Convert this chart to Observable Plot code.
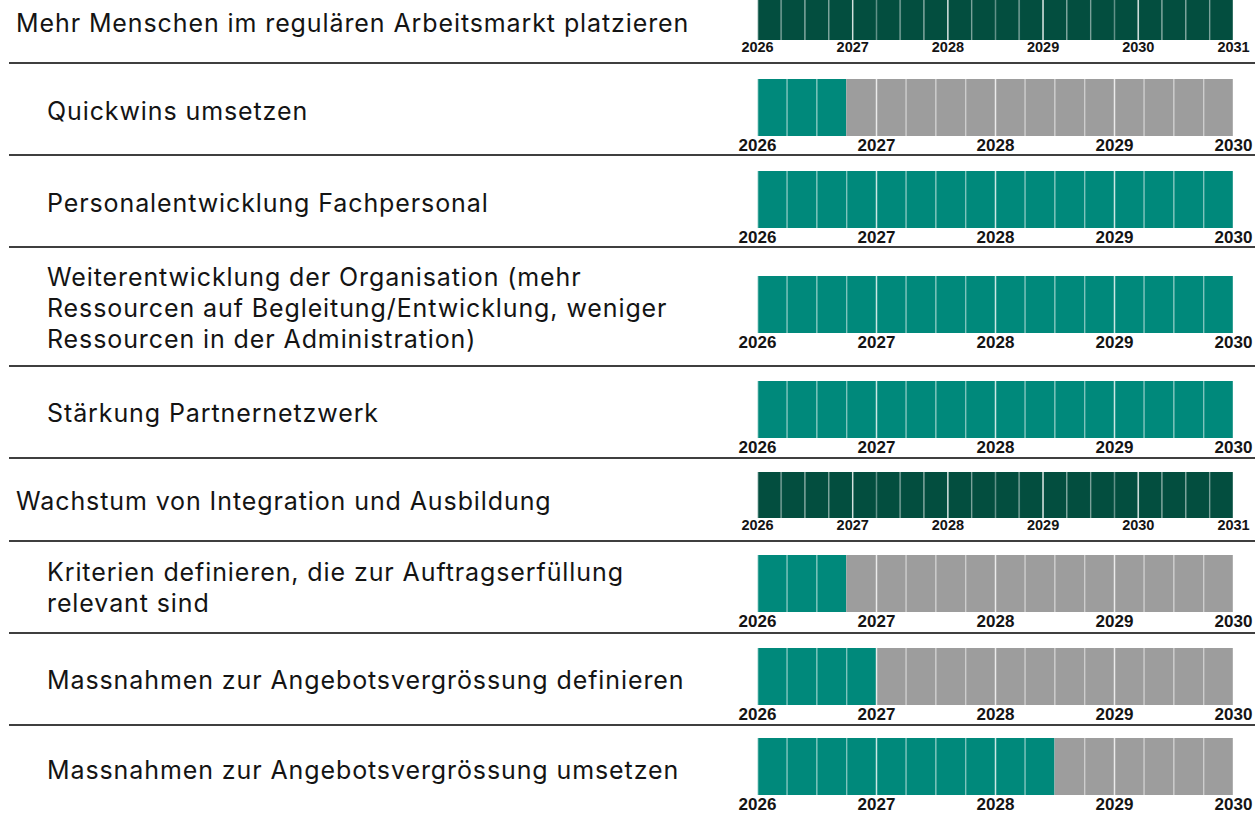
<!DOCTYPE html>
<html>
<head>
<meta charset="utf-8">
<script src="https://cdn.jsdelivr.net/npm/d3@7"></script>
<script src="https://cdn.jsdelivr.net/npm/@observablehq/plot@0.6"></script>
<style>
  html, body { margin: 0; padding: 0; background: #fff; overflow: hidden; }
  #chart { position: relative; width: 1255px; margin-top: -20px; }
  .row { position: relative; margin-left: 9px; width: 1246px; border-bottom: 2px solid #3f3f3f; box-sizing: content-box; }
  .row.last { border-bottom: none; }
  .label { position: absolute; display: flex; align-items: center; font-family: Inter, "Noto Sans", sans-serif; font-size: 25px; letter-spacing: 0.9px; line-height: 31px; color: #141414; white-space: pre; }
  .plot { position: absolute; top: 0; }
</style>
</head>
<body>
<div id="chart"></div>
<script>
// ---- data ----
const tasks = [
  "Mehr Menschen im regulären Arbeitsmarkt platzieren",
  "Quickwins umsetzen",
  "Personalentwicklung Fachpersonal",
  "Weiterentwicklung der Organisation (mehr\nRessourcen auf Begleitung/Entwicklung, weniger\nRessourcen in der Administration)",
  "Stärkung Partnernetzwerk",
  "Wachstum von Integration und Ausbildung",
  "Kriterien definieren, die zur Auftragserfüllung\nrelevant sind",
  "Massnahmen zur Angebotsvergrössung definieren",
  "Massnahmen zur Angebotsvergrössung umsetzen"
];
const isGoal = [true, false, false, false, false, true, false, false, false];
const startYear = 2026;
const endYears = [2031, 2030, 2030, 2030, 2030, 2031, 2030, 2030, 2030];
const activeQuarters = [20, 3, 16, 16, 16, 20, 3, 4, 10];

// ---- layout (styles, not data) ----
const rowHeights = [82, 90, 90, 117, 90, 81, 90, 90, 88];
const barTops    = [14, 15, 15, 28, 14, 13, 13, 14, 12];
const goalColor = "#034e3f", activeColor = "#00897b", idleColor = "#9d9d9d";

const chart = document.getElementById("chart");

tasks.forEach((task, r) => {
  const h = rowHeights[r];
  const goal = isGoal[r];
  const barH = goal ? 46 : 57;
  const top = barTops[r];
  const row = document.createElement("div");
  row.className = "row" + (r === tasks.length - 1 ? " last" : "");
  row.style.height = h + "px";

  const label = document.createElement("div");
  label.className = "label";
  label.textContent = task;
  label.style.left = (goal ? 7 : 38) + "px";
  label.style.top = (top + (goal ? 6 : 4) - 40) + "px";
  label.style.height = (barH + 80) + "px";
  row.appendChild(label);

  const n = (endYears[r] - startYear) * 4;
  const cells = d3.range(n).map(i => ({
    x1: startYear + i / 4,
    x2: startYear + (i + 1) / 4,
    state: goal ? "goal" : (i < activeQuarters[r] ? "active" : "idle")
  }));
  const bounds = d3.range(n + 1)
    .filter(i => goal || i % 4 === 0 || i !== activeQuarters[r] || i === n)
    .map(i => ({x: startYear + i / 4, year: i % 4 === 0}));
  const years = d3.range(startYear, endYears[r] + 1);

  const plot = Plot.plot({
    width: 549,
    height: h,
    marginLeft: 51,
    marginRight: 22,
    marginTop: top,
    marginBottom: h - top - barH,
    x: {domain: [startYear, endYears[r]]},
    color: {domain: ["goal", "active", "idle"], range: [goalColor, activeColor, idleColor]},
    style: {fontFamily: "'Liberation Sans', Arial, sans-serif", color: "#141414", background: "transparent", overflow: "visible"},
    marks: [
      Plot.barX(cells, {x1: "x1", x2: "x2", fill: "state"}),
      Plot.ruleX(bounds.filter(d => !d.year), {x: "x", stroke: "white", strokeOpacity: 0.38, strokeWidth: 1.5}),
      Plot.ruleX(bounds.filter(d => d.year), {x: "x", stroke: "white", strokeOpacity: 0.8, strokeWidth: 1.5}),
      Plot.axisX({
        ticks: years,
        tickFormat: d => String(d),
        tickSize: 0,
        tickPadding: goal ? 1 : 2,
        fontSize: goal ? 14.5 : 17,
        fontWeight: "bold",
        fill: "#141414"
      })
    ]
  });
  plot.classList.add("plot");
  plot.style.left = "697px";
  row.appendChild(plot);
  chart.appendChild(row);
});
</script>
</body>
</html>
